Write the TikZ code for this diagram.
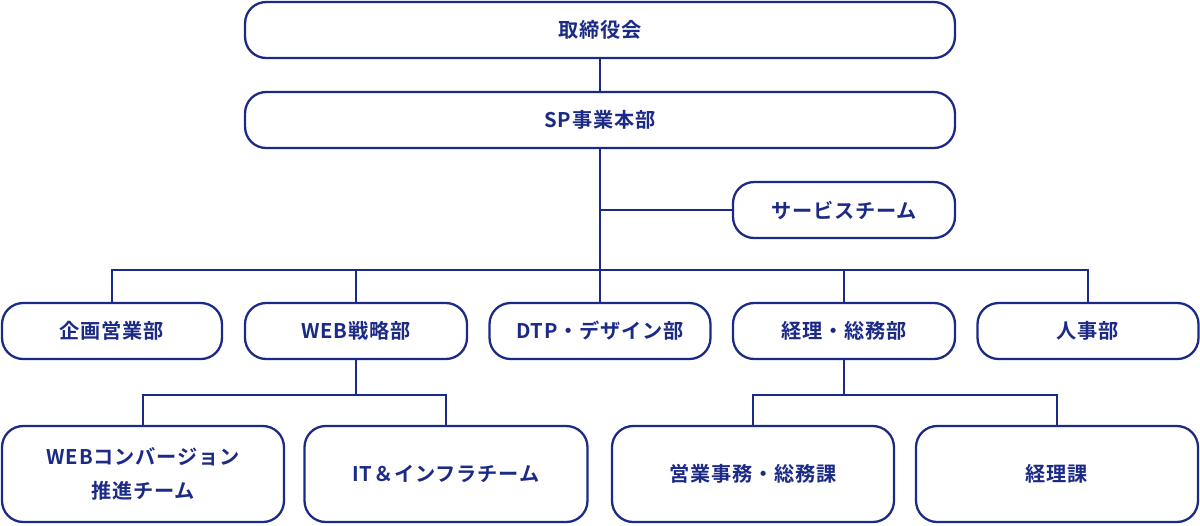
\documentclass[tikz,border=0pt]{standalone}
\usepackage{fontspec}
\newfontfamily\jpfont{Noto Sans CJK JP}[BoldFont={* Bold},LetterSpace=4]
\definecolor{navy}{HTML}{1B2A86}
\begin{document}
\begin{tikzpicture}[x=0.02cm,y=-0.02cm,
                    orgBox/.style={draw=navy,
                                   line width=1.3pt,
                                   rounded corners=12pt,
                                   text=navy,
                                   font=\jpfont\bfseries\fontsize{11.5}{19}\selectfont,
                                   align=center,
                                   inner sep=0pt},
                    link/.style={draw=navy, line width=1.1pt}]
    \useasboundingbox (0,0) rectangle (1200,525);
    % top
    \node[orgBox, minimum width=14.2cm, minimum height=1.12cm](board) at (600,30)  {取締役会};
    \node[orgBox, minimum width=14.2cm, minimum height=1.12cm](hq)    at (600,120) {SP事業本部};
    \node[orgBox, minimum width=4.44cm, minimum height=1.12cm](svc)   at (844,210) {サービスチーム};
    % departments
    \node[orgBox, minimum width=4.4cm, minimum height=1.12cm](plan) at (112,331)  {企画営業部};
    \node[orgBox, minimum width=4.44cm, minimum height=1.12cm](web) at (356,331)  {WEB戦略部};
    \node[orgBox, minimum width=4.42cm, minimum height=1.12cm](dtp) at (600,331)  {DTP・デザイン部};
    \node[orgBox, minimum width=4.44cm, minimum height=1.12cm](acc) at (844,331)  {経理・総務部};
    \node[orgBox, minimum width=4.42cm, minimum height=1.12cm](hr)  at (1088,331) {人事部};
    % sections
    \node[orgBox, minimum width=5.64cm, minimum height=1.92cm](conv)  at (143,474)  {WEBコンバージョン\\推進チーム};
    \node[orgBox, minimum width=5.66cm, minimum height=1.92cm](it)    at (446,474)  {IT＆インフラチーム};
    \node[orgBox, minimum width=5.64cm, minimum height=1.92cm](sales) at (753,474)  {営業事務・総務課};
    \node[orgBox, minimum width=5.64cm, minimum height=1.92cm](accs)  at (1057,474) {経理課};
    % connectors
    \coordinate (bus) at (600,270);
    \coordinate (svcJ) at (600,210);
    \coordinate (webJ) at (356,395);
    \coordinate (accJ) at (844,395);
    \path[link] (board) -- (hq);
    \path[link] (hq) -- (dtp);
    \path[link] (svcJ) -- (svc);
    \path[link] (plan.north) |- (bus) -| (hr.north);
    \path[link] (web.north) -- (web.north |- bus);
    \path[link] (acc.north) -- (acc.north |- bus);
    \path[link] (web) -- (webJ);
    \path[link] (conv.north) |- (webJ) -| (it.north);
    \path[link] (acc) -- (accJ);
    \path[link] (sales.north) |- (accJ) -| (accs.north);
\end{tikzpicture}
\end{document}
